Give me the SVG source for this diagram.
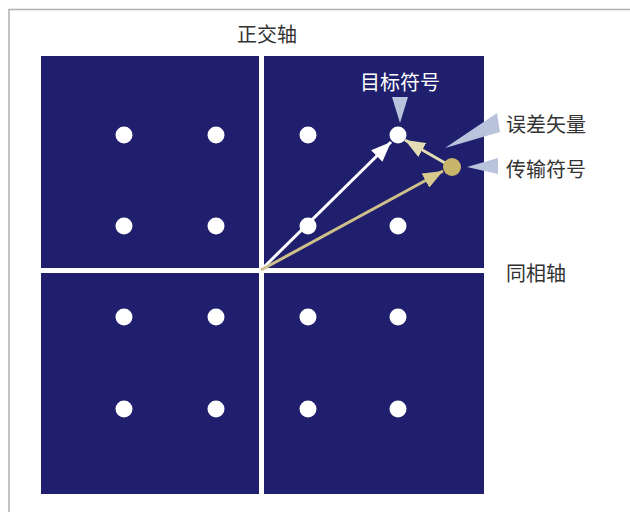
<svg xmlns="http://www.w3.org/2000/svg" width="630" height="512" viewBox="0 0 630 512">
<style>
.q{fill:#1f1f6e}
.dot{fill:#ffffff}
.lbl{font-family:"Noto Sans CJK SC","Noto Sans",sans-serif;font-size:20px;fill:#333333}
.ptr{fill:#b9c4dc}
</style>
<defs>
<marker id="hw" markerUnits="userSpaceOnUse" markerWidth="22" markerHeight="16" refX="20" refY="8" orient="auto"><path d="M0,0 L20,8 L0,16 z" fill="#ffffff"/></marker>
<marker id="ht" markerUnits="userSpaceOnUse" markerWidth="22" markerHeight="16" refX="20" refY="8" orient="auto"><path d="M0,0 L20,8 L0,16 z" fill="#d8ca8e"/></marker>
<marker id="he" markerUnits="userSpaceOnUse" markerWidth="22" markerHeight="16" refX="20" refY="8" orient="auto"><path d="M0,0 L20,8 L0,16 z" fill="#e4dcb2"/></marker>
</defs>
<rect x="0" y="0" width="630" height="512" fill="#ffffff"/>
<path d="M9,512 V9.5 H630" fill="none" stroke="#b0b0b0" stroke-width="1.5"/>
<g id="quadrants">
<rect class="q" x="41" y="56" width="218" height="212"/>
<rect class="q" x="264" y="56" width="220" height="212"/>
<rect class="q" x="41" y="273" width="218" height="221"/>
<rect class="q" x="264" y="273" width="220" height="221"/>
</g>
<g id="axes">
<line x1="261.5" y1="56" x2="261.5" y2="494" stroke="#ffffff" stroke-width="3"/>
<line x1="41" y1="270.5" x2="484" y2="270.5" stroke="#ffffff" stroke-width="3"/>
</g>
<g id="constellation">
<circle class="dot" cx="124" cy="135" r="8.5"/><circle class="dot" cx="216" cy="135" r="8.5"/><circle class="dot" cx="308" cy="135" r="8.5"/>
<circle class="dot" cx="124" cy="226" r="8.5"/><circle class="dot" cx="216" cy="226" r="8.5"/><circle class="dot" cx="308" cy="226" r="8.5"/><circle class="dot" cx="398" cy="226" r="8.5"/>
<circle class="dot" cx="124" cy="317" r="8.5"/><circle class="dot" cx="216" cy="317" r="8.5"/><circle class="dot" cx="308" cy="317" r="8.5"/><circle class="dot" cx="398" cy="317" r="8.5"/>
<circle class="dot" cx="124" cy="409" r="8.5"/><circle class="dot" cx="216" cy="409" r="8.5"/><circle class="dot" cx="308" cy="409" r="8.5"/><circle class="dot" cx="398" cy="409" r="8.5"/>
</g>
<g id="connectors">
<line x1="261" y1="270" x2="391" y2="142" stroke="#ffffff" stroke-width="3" marker-end="url(#hw)"/>
<line x1="261" y1="270" x2="443" y2="171" stroke="#cfc08a" stroke-width="3" marker-end="url(#ht)"/>
<line x1="452" y1="167" x2="405" y2="140" stroke="#e4dcb2" stroke-width="3" marker-end="url(#he)"/>
</g>
<g id="target">
<circle class="dot" cx="398" cy="135" r="8.5"/>
<text class="lbl" x="400" y="90" text-anchor="middle" style="fill:#ffffff">目标符号</text>
<polygon class="ptr" points="392,97 408,97 400,123"/>
</g>
<g id="transmitted">
<circle cx="452" cy="167" r="9" fill="#c9b56a"/>
</g>
<g id="label-error">
<polygon class="ptr" points="497,113 500,132 445,148"/>
<text class="lbl" x="506" y="132">误差矢量</text>
</g>
<g id="label-transmitted">
<polygon class="ptr" points="498,158 498,174 467,167"/>
<text class="lbl" x="506" y="177">传输符号</text>
</g>
<g id="label-q">
<text class="lbl" x="267" y="42" text-anchor="middle">正交轴</text>
</g>
<g id="label-i">
<text class="lbl" x="506" y="281">同相轴</text>
</g>
</svg>
